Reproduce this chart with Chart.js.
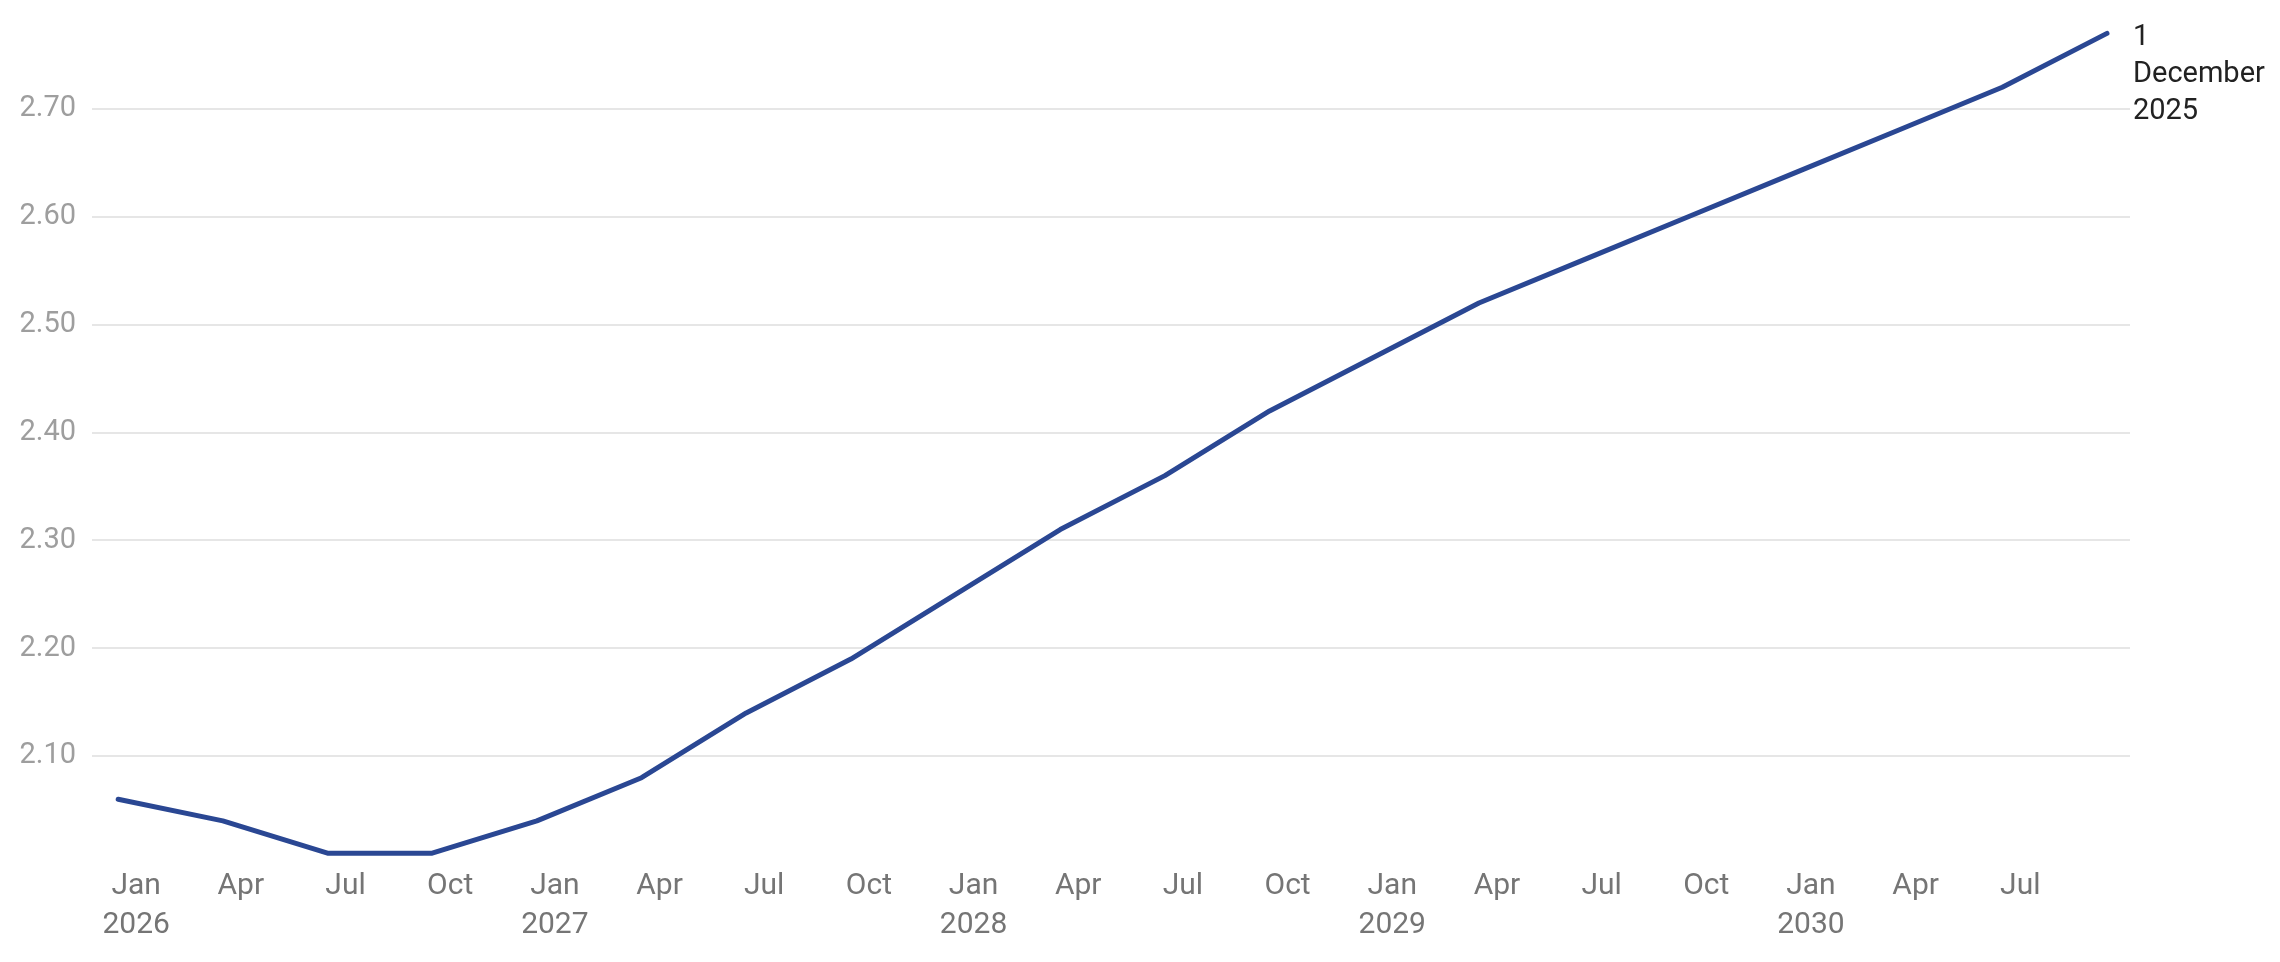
<!DOCTYPE html>
<html>
<head>
<meta charset="utf-8">
<script src="https://cdn.jsdelivr.net/npm/chart.js@4"></script>
<style>
  html, body { margin: 0; padding: 0; background: #fff; }
  #wrap { width: 2280px; height: 962px; }
</style>
</head>
<body>
<div id="wrap"><canvas id="rateChart" width="2280" height="962"></canvas></div>
<script>
// quarters of the forecast
var periods = ['2026 Q1', '2026 Q2', '2026 Q3', '2026 Q4',
               '2027 Q1', '2027 Q2', '2027 Q3', '2027 Q4',
               '2028 Q1', '2028 Q2', '2028 Q3', '2028 Q4',
               '2029 Q1', '2029 Q2', '2029 Q3', '2029 Q4',
               '2030 Q1', '2030 Q2', '2030 Q3', '2030 Q4']
var rates = [2.06, 2.04, 2.01, 2.01,
             2.04, 2.08, 2.14, 2.19,
             2.25, 2.31, 2.36, 2.42,
             2.47, 2.52, 2.56, 2.60,
             2.64, 2.68, 2.72, 2.77]
var seriesName = '1 December 2025'
var xTickLabels = [['Jan', '2026'], 'Apr', 'Jul', 'Oct',
                   ['Jan', '2027'], 'Apr', 'Jul', 'Oct',
                   ['Jan', '2028'], 'Apr', 'Jul', 'Oct',
                   ['Jan', '2029'], 'Apr', 'Jul', 'Oct',
                   ['Jan', '2030'], 'Apr', 'Jul']
var yTicks = [2.1, 2.2, 2.3, 2.4, 2.5, 2.6, 2.7]

var lineColor = '#2a4793'

// series name written next to the last point
var endLabel = {
    id: 'endLabel',
    afterDatasetsDraw: function (chart) {
        var meta = chart.getDatasetMeta(0)
        var last = meta.data[meta.data.length - 1]
        if (!last) return
        var ctx = chart.ctx
        var words = chart.data.datasets[0].label.split(' ')
        ctx.save()
        ctx.font = '29px Roboto'
        ctx.fillStyle = '#222222'
        ctx.textAlign = 'left'
        ctx.textBaseline = 'alphabetic'
        for (let i = 0; i < words.length; i++) {
            ctx.fillText(words[i], last.x + 26, last.y + 12 + i * 36.7)
        }
        ctx.restore()
    }
}

var ctx = document.getElementById('rateChart')
var chart = new Chart(ctx, {
    type: 'line',
    data: {
        labels: periods,
        datasets: [{
            label: seriesName,
            data: rates.map(function (v, i) { return { x: i, y: v } }),
            borderColor: lineColor,
            backgroundColor: lineColor,
            borderWidth: 5,
            pointRadius: 0,
            tension: 0,
            borderCapStyle: 'round',
            borderJoinStyle: 'round'
        }]
    },
    plugins: [endLabel],
    options: {
        responsive: false,
        animation: false,
        layout: { padding: { left: 0, right: 150, top: 1, bottom: 14 } },
        plugins: {
            legend: { display: false },
            tooltip: { enabled: false }
        },
        scales: {
            x: {
                type: 'linear',
                min: -0.25,
                max: 19.22,
                grid: { display: false, drawTicks: false },
                border: { display: false },
                afterBuildTicks: function (scale) {
                    scale.ticks = xTickLabels.map(function (l, i) { return { value: i } })
                },
                afterFit: function (scale) {
                    scale.paddingLeft = 0
                    scale.paddingRight = 0
                },
                ticks: {
                    autoSkip: false,
                    maxRotation: 0,
                    labelOffset: 18,
                    padding: 3,
                    color: '#757575',
                    font: { family: 'Roboto', size: 30, lineHeight: 1.3 },
                    callback: function (value) { return xTickLabels[value] }
                }
            },
            y: {
                min: 2.0,
                max: 2.8,
                grid: { color: '#e6e6e6', lineWidth: 2, drawTicks: false },
                border: { display: false },
                afterBuildTicks: function (scale) {
                    scale.ticks = yTicks.map(function (v) { return { value: v } })
                },
                afterFit: function (scale) {
                    scale.width = 92
                    scale.paddingTop = 0
                    scale.paddingBottom = 0
                },
                ticks: {
                    padding: 16,
                    color: '#9e9e9e',
                    font: { family: 'Roboto', size: 29 },
                    callback: function (value) { return value.toFixed(2) }
                }
            }
        }
    }
})
</script>
</body>
</html>
